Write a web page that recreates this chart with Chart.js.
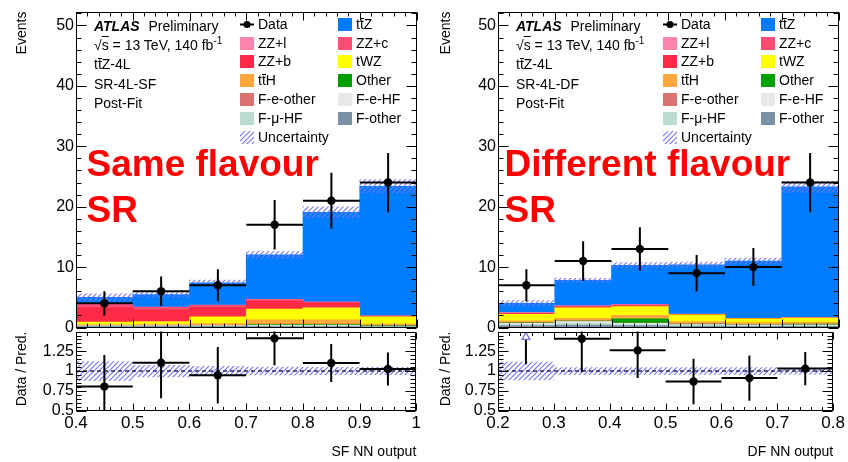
<!DOCTYPE html>
<html lang="en">
<head>
<meta charset="UTF-8">
<meta name="viewport" content="width=device-width, initial-scale=1.0">
<title>ttZ 4L NN output, SR-4L-SF and SR-4L-DF</title>
<script src="https://cdn.jsdelivr.net/npm/chart.js"></script>
<style>
  body { margin: 0; background: #fff; font-family: 'Liberation Sans', Arial, Helvetica, sans-serif; }
  #page { position: relative; width: 848px; height: 462px; overflow: hidden; }
  .plot { position: absolute; }
  .atlas { position: absolute; font-size: 14px; line-height: 19.2px; white-space: nowrap; }
  .atlas b { font-style: italic; margin-right: 5px; }
  .atlas sup { font-size: 10px; line-height: 0; vertical-align: 6px; }
  .region { position: absolute; font-size: 37px; font-weight: bold; line-height: 46.6px; color: #ff0000; white-space: nowrap; }
  .legend { position: absolute; display: grid; grid-template-columns: 98px 98px; grid-auto-rows: 18.9px; font-size: 14px; line-height: 18.9px; }
  .item { display: flex; align-items: center; white-space: nowrap; }
  .sw { display: block; width: 14px; height: 13px; margin-right: 4px; flex: none; }
  .ov { position: relative; }
  .ov::after { content: ''; position: absolute; left: 0; right: 0; top: 2px; border-top: 1px solid #000; }
</style>
</head>
<body>
<div id="page">
  <canvas class="plot" id="sfMain" width="424" height="342" style="left:0px;top:0px"></canvas>
  <canvas class="plot" id="sfRatio" width="424" height="142" style="left:0px;top:320px"></canvas>
  <canvas class="plot" id="dfMain" width="424" height="342" style="left:424px;top:0px"></canvas>
  <canvas class="plot" id="dfRatio" width="424" height="142" style="left:424px;top:320px"></canvas>

  <div class="atlas" style="left:94px;top:17px">
    <b>ATLAS</b> Preliminary<br>
    &radic;<span style="text-decoration:overline">s</span> = 13 TeV, 140 fb<sup>-1</sup><br>
    t<span class="ov">t</span>Z-4L<br>
    SR-4L-SF<br>
    Post-Fit
  </div>
  <div class="atlas" style="left:516px;top:17px">
    <b>ATLAS</b> Preliminary<br>
    &radic;<span style="text-decoration:overline">s</span> = 13 TeV, 140 fb<sup>-1</sup><br>
    t<span class="ov">t</span>Z-4L<br>
    SR-4L-DF<br>
    Post-Fit
  </div>

  <div class="region" style="left:86.5px;top:140.6px">Same flavour<br>SR</div>
  <div class="region" style="left:504.5px;top:140.6px">Different flavour<br>SR</div>

  <div class="legend" id="sfLegend" style="left:240px;top:14.7px"></div>
  <div class="legend" id="dfLegend" style="left:663px;top:14.7px"></div>
</div>

<script>
  // bin edges double as the x tick labels
  const sfEdges = [0.4, 0.5, 0.6, 0.7, 0.8, 0.9, 1.0];
  const dfEdges = [0.2, 0.3, 0.4, 0.5, 0.6, 0.7, 0.8];
  const eventTicks = [0, 10, 20, 30, 40, 50];
  const ratioTicks = [0.5, 0.75, 1, 1.25];
  const eventsMax = 52.3;
  const ratioMin = 0.5;
  const ratioMax = 1.5;

  // observed events and their errors
  const sfData    = [4, 6, 7, 17, 21, 24];
  const sfDataErr = [2.0, 2.45, 2.65, 4.1, 4.6, 4.9];
  const dfData    = [7, 11, 13, 9, 10, 24];
  const dfDataErr = [2.65, 3.3, 3.6, 3.0, 3.15, 4.9];

  // post-fit yields, SR-4L-SF (listed bottom of the stack first)
  const sfFother  = [0.15, 0.15, 0.15, 0.15, 0.15, 0.10];
  const sfFmuHF   = [0.08, 0.08, 0.08, 0.10, 0.10, 0.05];
  const sfFeHF    = [0.05, 0.05, 0.05, 0.10, 0.10, 0.05];
  const sfFeOther = [0.02, 0.02, 0.02, 0.02, 0.02, 0.02];
  const sfOther   = [0.03, 0.03, 0.05, 0.10, 0.10, 0.10];
  const sfTtH     = [0.10, 0.15, 0.30, 0.80, 0.80, 0.25];
  const sfTWZ     = [0.45, 0.50, 1.10, 1.80, 2.00, 1.20];
  const sfZZb     = [2.40, 2.00, 1.60, 1.30, 0.80, 0.08];
  const sfZZc     = [0.50, 0.35, 0.30, 0.25, 0.12, 0.05];
  const sfZZl     = [0.10, 0.05, 0.05, 0.05, 0.03, 0.02];
  const sfTtZ     = [1.10, 2.05, 3.70, 7.35, 14.85, 21.45];
  const sfUnc     = [0.60, 0.40, 0.45, 0.60, 0.90, 1.10];

  // post-fit yields, SR-4L-DF
  const dfFother  = [0.30, 0.40, 0.30, 0.25, 0.20, 0.20];
  const dfFmuHF   = [0.20, 0.30, 0.20, 0.15, 0.10, 0.10];
  const dfFeHF    = [0.20, 0.30, 0.20, 0.10, 0.10, 0.10];
  const dfFeOther = [0.05, 0.05, 0.05, 0.05, 0.05, 0.05];
  const dfOther   = [0.05, 0.05, 0.70, 0.05, 0.05, 0.10];
  const dfTtH     = [0.30, 0.40, 0.55, 0.40, 0.30, 0.30];
  const dfTWZ     = [1.10, 1.75, 1.45, 1.10, 0.65, 0.70];
  const dfZZb     = [0.10, 0.15, 0.15, 0.05, 0.03, 0.03];
  const dfZZc     = [0.10, 0.15, 0.15, 0.05, 0.03, 0.03];
  const dfZZl     = [0.05, 0.05, 0.05, 0.03, 0.02, 0.02];
  const dfTtZ     = [1.55, 4.20, 6.50, 8.15, 9.45, 21.65];
  const dfUnc     = [0.45, 0.35, 0.45, 0.45, 0.50, 0.90];

  const sampleNames  = ['F-other', 'F-\u03bc-HF', 'F-e-HF', 'F-e-other', 'Other', 'tt\u0304H',
                        'tWZ', 'ZZ+b', 'ZZ+c', 'ZZ+l', 'tt\u0304Z'];
  const sampleColors = ['#7a90a4', '#bddcd1', '#e8e8e8', '#db7272', '#00a000', '#ffa73c',
                        '#ffff00', '#ff2a46', '#ff4d73', '#ff84ab', '#007dff'];
  const legendOrder  = ['Data', 'tt\u0304Z', 'ZZ+l', 'ZZ+c', 'ZZ+b', 'tWZ', 'tt\u0304H', 'Other',
                        'F-e-other', 'F-e-HF', 'F-\u03bc-HF', 'F-other', 'Uncertainty'];

  const sfYields = [sfFother, sfFmuHF, sfFeHF, sfFeOther, sfOther, sfTtH, sfTWZ, sfZZb, sfZZc, sfZZl, sfTtZ];
  const dfYields = [dfFother, dfFmuHF, dfFeHF, dfFeOther, dfOther, dfTtH, dfTWZ, dfZZb, dfZZc, dfZZl, dfTtZ];

  Chart.defaults.font.family = "'Liberation Sans', Arial, Helvetica, sans-serif";
  Chart.defaults.color = '#000';

  // hatch for the uncertainty band
  const hatchTile = document.createElement('canvas');
  hatchTile.width = 5;
  hatchTile.height = 5;
  const hg = hatchTile.getContext('2d');
  hg.strokeStyle = 'rgb(115,115,250)';
  hg.lineWidth = 1.1;
  hg.beginPath();
  hg.moveTo(0, 5); hg.lineTo(5, 0);
  hg.moveTo(-1, 1); hg.lineTo(1, -1);
  hg.moveTo(4, 6); hg.lineTo(6, 4);
  hg.stroke();
  const hatchFill = hg.createPattern(hatchTile, 'repeat');

  // ROOT-style frame: box plus inward major/minor ticks on all four sides
  const rootFrame = {
    id: 'rootFrame',
    afterDatasetsDraw(chart, args, o) {
      const {ctx, chartArea: a, scales: {x, y}} = chart;
      const L = Math.round(a.left) + 0.5, R = Math.round(a.right) - 0.5;
      const T = Math.round(a.top) + 0.5, B = Math.round(a.bottom) - 0.5;
      ctx.save();
      ctx.strokeStyle = '#000';
      ctx.lineWidth = 1;
      ctx.beginPath();
      const nx = Math.round((x.max - x.min) / o.xStep);
      for (let k = 0; k <= nx; k++) {
        const px = Math.round(x.getPixelForValue(x.min + k * o.xStep)) + 0.5;
        const len = k % 5 === 0 ? o.xLen : o.xLen / 2;
        ctx.moveTo(px, B); ctx.lineTo(px, B - len);
        ctx.moveTo(px, T); ctx.lineTo(px, T + len);
      }
      const ny = Math.floor((y.max - y.min) / o.yStep + 1e-6);
      for (let k = 0; k <= ny; k++) {
        const py = Math.round(y.getPixelForValue(y.min + k * o.yStep)) + 0.5;
        const len = k % 5 === 0 ? o.yLen : o.yLen / 2;
        ctx.moveTo(L, py); ctx.lineTo(L + len, py);
        ctx.moveTo(R, py); ctx.lineTo(R - len, py);
      }
      ctx.stroke();
      ctx.strokeRect(L, T, R - L, B - T);
      ctx.restore();
    }
  };

  const common = {
    responsive: false,
    animation: false,
    devicePixelRatio: 1,
    events: [],
    datasets: {bar: {grouped: false, barPercentage: 1, categoryPercentage: 1, borderWidth: 0}}
  };
  const quiet = {legend: {display: false}, tooltip: {enabled: false}};

  const mids = e => e.slice(0, -1).map((v, i) => (v + e[i + 1]) / 2);

  // horizontal (bin width) and vertical (error) bar segments, broken by nulls
  function errorSegments(edges, vals, errs, keep) {
    const h = [], v = [];
    vals.forEach((y, i) => {
      if (keep && !keep(i)) return;
      const c = (edges[i] + edges[i + 1]) / 2;
      h.push({x: edges[i], y}, {x: edges[i + 1], y}, {x: c, y: null});
      v.push({x: c, y: y - errs[i]}, {x: c, y: y + errs[i]}, {x: c, y: null});
    });
    return [h, v];
  }

  const segDs = (data, name) => ({
    type: 'line', label: name, stack: name, order: 1, data,
    borderColor: '#000', borderWidth: 2, pointRadius: 0, spanGaps: false
  });
  const pointDs = data => ({
    type: 'scatter', label: 'Data', stack: 'pts', order: 0, data,
    pointRadius: 4.2, backgroundColor: '#000', borderWidth: 0
  });

  function xScale(edges, title) {
    return {
      type: 'linear', min: edges[0], max: edges[edges.length - 1], offset: false,
      grid: {display: false, drawTicks: false, offset: false},
      border: {display: false},
      afterBuildTicks: s => { s.ticks = edges.map(value => ({value})); },
      afterFit: s => { s.height = title ? 51.5 : 0; },
      ticks: {display: !!title, padding: 3, font: {size: 17}, maxRotation: 0, autoSkip: false,
              callback: v => String(v)},
      title: {display: !!title, text: title || '', align: 'end', font: {size: 14},
              padding: {top: 0, bottom: 1.6}}
    };
  }

  function yScale(min, max, ticks, title, width, stacked) {
    return {
      type: 'linear', min, max, stacked,
      grid: {display: false, drawTicks: false},
      border: {display: false},
      afterBuildTicks: s => { s.ticks = ticks.map(value => ({value})); },
      afterFit: s => { s.width = width; },
      ticks: {padding: 2, font: {size: 16}, callback: v => String(v)},
      title: {display: true, text: title, align: 'end', font: {size: 14}, padding: {top: 14, bottom: 0}}
    };
  }

  function mainPanel(id, edges, data, dataErr, yields, unc, yAxisW, padRight) {
    const centre = mids(edges);
    const total = centre.map((_, i) => yields.reduce((t, s) => t + s[i], 0));
    const datasets = yields.map((vals, j) => ({
      type: 'bar', label: sampleNames[j], stack: 'mc', order: 3,
      backgroundColor: sampleColors[j],
      data: centre.map((x, i) => ({x, y: vals[i]}))
    }));
    datasets.push({
      type: 'bar', label: 'Uncertainty', stack: 'unc', order: 2,
      backgroundColor: hatchFill,
      data: centre.map((x, i) => ({x, y: [total[i] - unc[i], total[i] + unc[i]]}))
    });
    const [h, v] = errorSegments(edges, data, dataErr);
    datasets.push(segDs(h, 'errH'), segDs(v, 'errV'),
                  pointDs(centre.map((x, i) => ({x, y: data[i]}))));

    new Chart(document.getElementById(id), {
      type: 'bar',
      data: {datasets},
      options: {
        ...common,
        layout: {padding: {left: 0, top: 5, right: padRight, bottom: 14.5}},
        plugins: {...quiet, rootFrame: {xStep: 0.02, xLen: 8, yStep: 2, yLen: 10}},
        scales: {
          x: xScale(edges, null),
          y: yScale(0, eventsMax, eventTicks, 'Events', yAxisW, true)
        }
      },
      plugins: [rootFrame]
    });
    return total;
  }

  function ratioPanel(id, edges, data, dataErr, total, unc, title, yAxisW, padRight) {
    const centre = mids(edges);
    const r = data.map((d, i) => d / total[i]);
    const rErr = dataErr.map((e, i) => e / total[i]);
    const inRange = i => r[i] <= ratioMax;

    const datasets = [{
      type: 'bar', label: 'Uncertainty', stack: 'unc', order: 4,
      backgroundColor: hatchFill,
      data: centre.map((x, i) => ({x, y: [1 - unc[i] / total[i], 1 + unc[i] / total[i]]}))
    }, {
      type: 'line', label: 'unity', stack: 'one', order: 3,
      borderColor: '#2b2b5e', borderWidth: 1.5, borderDash: [4, 3], pointRadius: 0,
      data: [{x: edges[0], y: 1}, {x: edges[edges.length - 1], y: 1}]
    }];
    const [h, v] = errorSegments(edges, r, rErr, inRange);
    datasets.push(segDs(h, 'errH'), segDs(v, 'errV'),
                  pointDs(centre.map((x, i) => ({x, y: inRange(i) ? r[i] : null}))));

    // ratios above the frame: open arrow at the top edge, line up from the lower error
    const arrowY = ratioMax - 0.07;
    const up = [], upLine = [];
    centre.forEach((x, i) => {
      if (inRange(i)) return;
      up.push({x, y: arrowY});
      upLine.push({x, y: r[i] - rErr[i]}, {x, y: arrowY}, {x, y: null});
    });
    datasets.push(segDs(upLine, 'upLine'), {
      type: 'scatter', label: 'offscale', stack: 'up', order: 0, data: up,
      pointStyle: 'triangle', pointRadius: 4.5,
      backgroundColor: '#fff', borderColor: '#7070e0', borderWidth: 1.3
    });

    new Chart(document.getElementById(id), {
      type: 'bar',
      data: {datasets},
      options: {
        ...common,
        layout: {padding: {left: 0, top: 8.5, right: padRight, bottom: 0}},
        plugins: {...quiet, rootFrame: {xStep: 0.02, xLen: 7, yStep: 0.05, yLen: 10}},
        scales: {
          x: xScale(edges, title),
          y: yScale(ratioMin, ratioMax, ratioTicks, 'Data / Pred.', yAxisW, false)
        }
      },
      plugins: [rootFrame]
    });
  }

  function buildLegend(id) {
    const el = document.getElementById(id);
    legendOrder.forEach(name => {
      const item = document.createElement('div');
      item.className = 'item';
      let sw;
      if (name === 'Data') {
        sw = document.createElement('canvas');
        sw.width = 14;
        sw.height = 13;
        const g = sw.getContext('2d');
        g.fillStyle = '#000';
        g.fillRect(0, 5.5, 14, 2);
        g.beginPath();
        g.arc(7, 6.5, 3.6, 0, 2 * Math.PI);
        g.fill();
      } else {
        sw = document.createElement('span');
        if (name === 'Uncertainty') sw.style.backgroundImage = `url(${hatchTile.toDataURL()})`;
        else sw.style.background = sampleColors[sampleNames.indexOf(name)];
      }
      sw.className = 'sw';
      const txt = document.createElement('span');
      txt.innerHTML = name.replace('t\u0304', '<span class="ov">t</span>');
      item.append(sw, txt);
      el.appendChild(item);
    });
  }

  const sfTotal = mainPanel('sfMain', sfEdges, sfData, sfDataErr, sfYields, sfUnc, 76, 7.5);
  ratioPanel('sfRatio', sfEdges, sfData, sfDataErr, sfTotal, sfUnc, 'SF NN output', 76, 7.5);
  const dfTotal = mainPanel('dfMain', dfEdges, dfData, dfDataErr, dfYields, dfUnc, 74, 9.5);
  ratioPanel('dfRatio', dfEdges, dfData, dfDataErr, dfTotal, dfUnc, 'DF NN output', 74, 9.5);
  buildLegend('sfLegend');
  buildLegend('dfLegend');
</script>
</body>
</html>
